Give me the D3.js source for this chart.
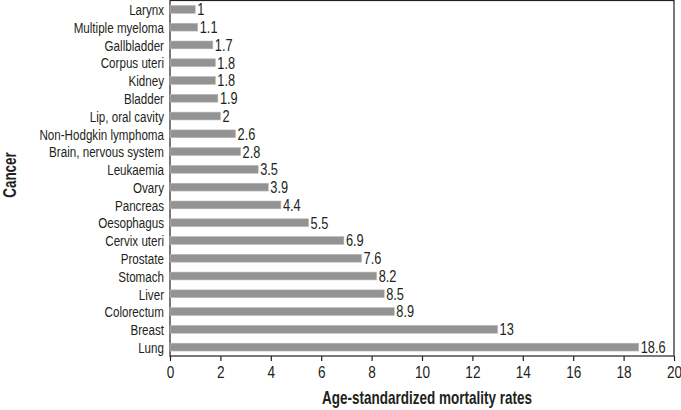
<!DOCTYPE html>
<html><head><meta charset="utf-8">
<script src="https://cdn.jsdelivr.net/npm/d3@7"></script>
<style>
body{margin:0;background:#fff;}
text{font-family:"Liberation Sans","Open Sans",sans-serif;fill:#231f20;}
</style></head>
<body>
<svg id="c" width="681" height="410"></svg>
<script>
const categories = ["Larynx","Multiple myeloma","Gallbladder","Corpus uteri","Kidney","Bladder","Lip, oral cavity","Non-Hodgkin lymphoma","Brain, nervous system","Leukaemia","Ovary","Pancreas","Oesophagus","Cervix uteri","Prostate","Stomach","Liver","Colorectum","Breast","Lung"];
const values = [1,1.1,1.7,1.8,1.8,1.9,2,2.6,2.8,3.5,3.9,4.4,5.5,6.9,7.6,8.2,8.5,8.9,13,18.6];
const xTicks = [0,2,4,6,8,10,12,14,16,18,20];

const svg = d3.select("#c");
const L=170, R=674, T=0.5, B=356;
const SX = 0.8;
const x = d3.scaleLinear().domain([0,20]).range([L,R]);
const y = d3.scaleBand().domain(categories).range([T,B]).paddingInner(0.56).paddingOuter(0.28);

svg.append("rect").attr("x",L).attr("y",T).attr("width",R-L).attr("height",B-T)
  .attr("fill","none").attr("stroke","#231f20").attr("stroke-width",1.2);

svg.selectAll("rect.bar").data(values).enter().append("rect").attr("class","bar")
  .attr("x",x(0)).attr("y",(d,i)=>y(categories[i]))
  .attr("width",d=>x(d)-x(0)).attr("height",y.bandwidth())
  .attr("fill","#939393").attr("stroke","#b8b8b8").attr("stroke-width",0.6);

svg.selectAll("text.val").data(values).enter().append("text").attr("class","val")
  .attr("transform",(d,i)=>`translate(${x(d)+2},${y(categories[i])+y.bandwidth()/2}) scale(${SX},1)`)
  .attr("dy","0.37em").attr("font-size",16).text(d=>d);

svg.selectAll("text.cat").data(categories).enter().append("text").attr("class","cat")
  .attr("transform",d=>`translate(${L-6},${y(d)+y.bandwidth()/2}) scale(0.75,1)`)
  .attr("dy","0.37em").attr("text-anchor","end").attr("font-size",15.5).text(d=>d);

const xa = d3.axisBottom(x).tickValues(xTicks).tickSize(5).tickFormat(d3.format("d"));
const g = svg.append("g").attr("transform",`translate(0,${B})`).call(xa);
g.select(".domain").remove();
g.selectAll(".tick line").attr("stroke","#231f20").attr("stroke-width",1.2);
g.selectAll(".tick text").attr("font-size",17).attr("y",9).attr("dy","0.75em")
  .attr("transform",`scale(${SX},1)`).attr("x",0)
  .style("font-family",'"Liberation Sans",sans-serif').attr("fill","#231f20");

svg.append("text").attr("transform",`translate(427,404) scale(0.75,1)`).attr("text-anchor","middle")
  .attr("font-size",18).attr("font-weight","bold").text("Age-standardized mortality rates");
svg.append("text").attr("transform","translate(16,175) rotate(-90) scale(0.75,1)").attr("text-anchor","middle")
  .attr("font-size",18).attr("font-weight","bold").text("Cancer");
</script>
</body></html>
